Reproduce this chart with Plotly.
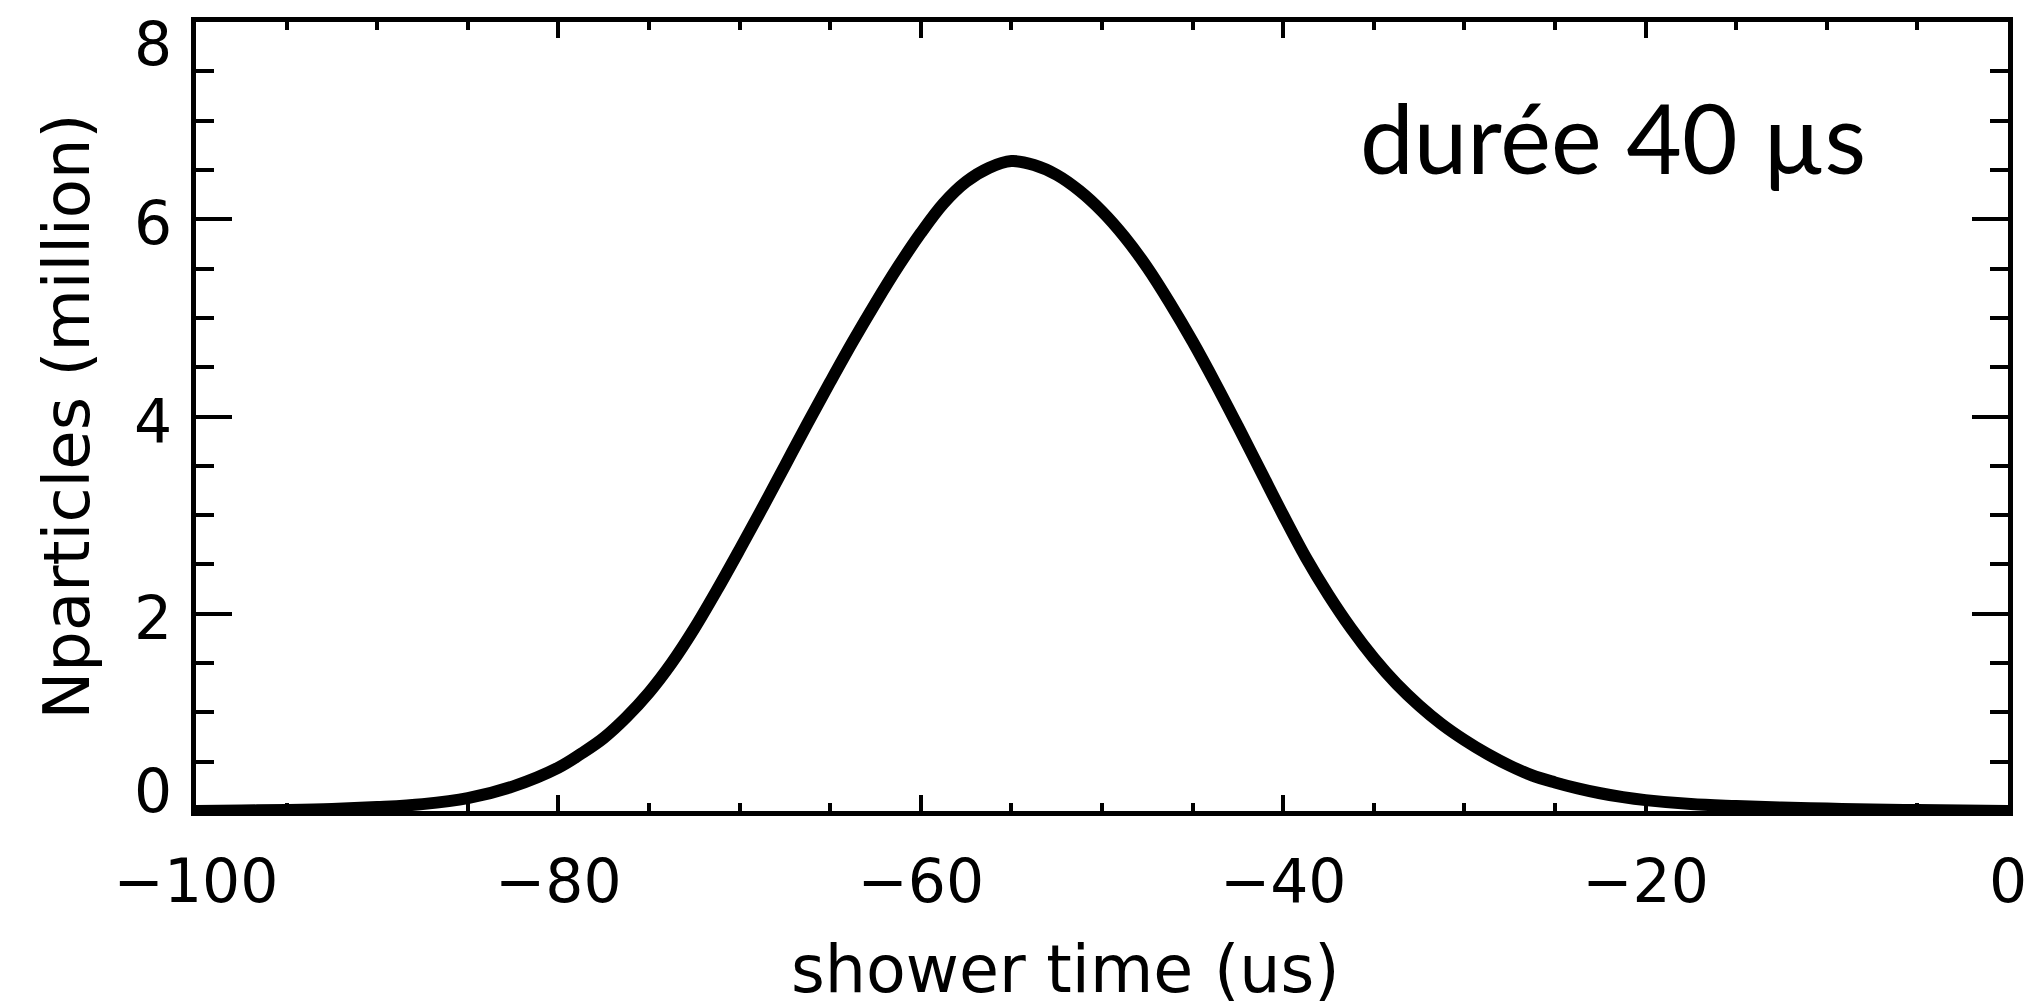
"""
Shower particle count vs time (single profile, ~40 us duration)
"""

import plotly.graph_objects as go

# shower time (us) and particle count (million)
time_us = [-100, -97.5, -95, -92.5, -90, -87.5, -85, -82.5,
           -80, -78.75, -77.5, -76.25, -75, -73.75, -72.5, -71.25,
           -70, -68.75, -67.5, -66.25, -65, -63.75, -62.5, -61.25,
           -60, -58.75, -57.5, -56.25, -55, -53.75, -52.5, -51.25,
           -50, -48.75, -47.5, -46.25, -45, -43.75, -42.5, -41.25,
           -40, -38.75, -37.5, -36.25, -35, -33.75, -32.5, -31.25,
           -30, -28.75, -27.5, -26.25, -25, -23.75, -22.5, -21.25,
           -20, -17.5, -15, -12.5, -10, -7.5, -5, -2.5, 0]
nparticles = [0.0, 0.005, 0.01, 0.02, 0.04, 0.07, 0.13, 0.25,
              0.44, 0.58, 0.74, 0.95, 1.20, 1.50, 1.85, 2.24,
              2.65, 3.07, 3.50, 3.93, 4.35, 4.76, 5.15, 5.52,
              5.86, 6.16, 6.38, 6.52, 6.59, 6.55, 6.45, 6.29,
              6.08, 5.82, 5.51, 5.15, 4.76, 4.34, 3.90, 3.45,
              3.00, 2.57, 2.19, 1.85, 1.55, 1.29, 1.07, 0.88,
              0.72, 0.58, 0.46, 0.36, 0.29, 0.23, 0.18, 0.14,
              0.11, 0.07, 0.05, 0.035, 0.025, 0.015, 0.01, 0.005, 0.0]

x_range = [-100, 0]
y_range = [0, 8]
y_tick_vals = [0, 2, 4, 6, 8]
x_title = 'shower time (us)'
y_title = 'Nparticles (million)'
label = 'durée 40 µs'

tick_font = dict(family='DejaVu Sans', size=60, color='black')
title_font = dict(family='DejaVu Sans', size=64, color='black')

fig = go.Figure()

fig.add_trace(
    go.Scatter(
        x=time_us,
        y=nparticles,
        mode='lines',
        line=dict(color='black', width=12, shape='spline', smoothing=1.0),
        showlegend=False,
        hoverinfo='skip'
    )
)

# axes: IDL-style box with inward ticks on all four sides
fig.update_xaxes(
    range=x_range,
    tick0=-100, dtick=20,
    ticks='inside', ticklen=16, tickwidth=4, tickcolor='black',
    minor=dict(dtick=5, ticks='inside', ticklen=8, tickwidth=4, tickcolor='black'),
    showline=True, linewidth=5, linecolor='black', mirror='ticks',
    showgrid=False, zeroline=False,
    tickfont=tick_font, ticklabelstandoff=14
)
fig.update_yaxes(
    range=y_range,
    tick0=0, dtick=2,
    ticks='inside', ticklen=36, tickwidth=4, tickcolor='black',
    minor=dict(dtick=0.5, ticks='inside', ticklen=18, tickwidth=4, tickcolor='black'),
    showline=True, linewidth=5, linecolor='black', mirror='ticks',
    showgrid=False, zeroline=False,
    showticklabels=False
)

# y tick labels as annotations: the end labels are pulled inside the frame like IDL does
for v in y_tick_vals:
    if v == y_range[0]:
        shift = 20
    elif v == y_range[1]:
        shift = -22
    else:
        shift = -4
    fig.add_annotation(
        x=0, y=v, xref='paper', yref='y',
        text=str(v), showarrow=False, font=tick_font,
        xanchor='right', yanchor='middle', xshift=-22, yshift=shift
    )

# axis titles placed by hand so they sit where the original has them
fig.add_annotation(
    x=0.5, y=0, xref='paper', yref='paper',
    text=x_title, showarrow=False, font=dict(family='DejaVu Sans', size=65, color='black'),
    xanchor='center', yanchor='middle', xshift=-37, yshift=-158
)
fig.add_annotation(
    x=0, y=0.5, xref='paper', yref='paper',
    text=y_title, showarrow=False, font=title_font, textangle=-90,
    xanchor='center', yanchor='middle', xshift=-130
)

# duration label
fig.add_annotation(
    x=-21.8, y=6.84, xref='x', yref='y',
    text=label, showarrow=False,
    font=dict(family='Lato', size=96, color='black'),
    xanchor='center', yanchor='middle'
)

fig.update_layout(
    width=2040, height=1008,
    margin=dict(l=196, r=32, t=22, b=197),
    plot_bgcolor='white', paper_bgcolor='white'
)

# drop the browser's default body margin so the figure fills the window exactly
fig.write_html(
    "out.html",
    config={'displayModeBar': False},
    post_script="document.body.style.margin='0';"
)
